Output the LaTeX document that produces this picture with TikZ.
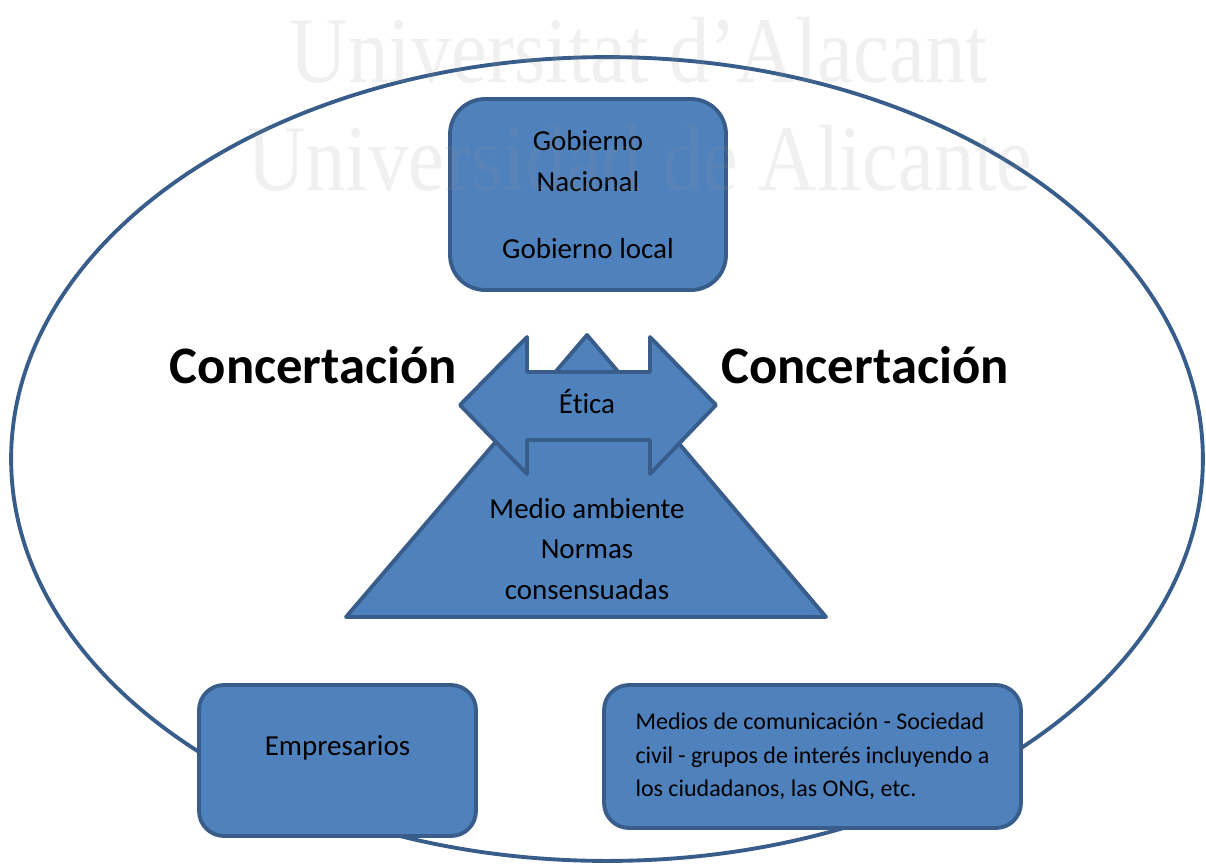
\documentclass[tikz,border=0pt]{standalone}
\usepackage{fontspec}
\setmainfont[Ligatures=NoCommon]{Carlito}
\newfontfamily\wmfont[FakeStretch=0.86]{Liberation Serif}
\usetikzlibrary{positioning}
\definecolor{boxblue}{HTML}{4F81BD}
\definecolor{boxline}{HTML}{385D8A}
\tikzset{%
   blk/.style={
      draw=boxline,
      fill=boxblue,
      line width=2.2pt,
      line join=round
   },
   rbox/.style={
      blk,
      rectangle,
      rounded corners=#1,
      align=center,
      font=\fontsize{16.5}{23.3}\selectfont
   },
   rbox/.default=0.5cm,
   lbl/.style={
      font=\fontsize{16.5}{23.3}\selectfont,
      align=center,
      inner sep=0pt
   },
   conc/.style={
      font=\fontsize{30}{36}\selectfont\bfseries,
      inner sep=0pt
   },
   wm/.style={
      font=\wmfont\fontsize{53.5}{60}\selectfont,
      text=black!41,
      text opacity=0.14,
      inner sep=0pt
   },
}

\begin{document}
\begin{tikzpicture}[x=0.02cm, y=-0.02cm]
   \useasboundingbox (0,0) rectangle (1206,863);
   \draw[boxline, line width=2.2pt] (607,459) ellipse [x radius=11.92cm, y radius=8.04cm];

   \node[rbox=0.7cm, minimum width=5.52cm, minimum height=3.82cm] (gob) at (588,194.5)
      {Gobierno\\Nacional\\[15pt]Gobierno local};
   \node[rbox, minimum width=5.54cm, minimum height=3.02cm, text depth=17pt] (emp) at (337.5,760.5)
      {Empresarios};
   \node[rbox, minimum width=8.34cm, minimum height=2.86cm, align=left,
      font=\fontsize{13.65}{19}\selectfont] (medios) at (812.5,756.5)
      {Medios de comunicación - Sociedad\\civil - grupos de interés incluyendo a\\los ciudadanos, las ONG, etc.};

   \coordinate (apex) at (587,335);
   \coordinate (bl) at (346,617);
   \coordinate (br) at (826,617);
   \draw[blk] (apex) -- (br) -- (bl) -- cycle;

   \coordinate (tipL) at (460,405);
   \coordinate (tipR) at (716,405);
   \draw[blk] (tipL) -- (527,337) -- (527,372) -- (650,372) -- (650,337) -- (tipR)
      -- (650,474) -- (650,440) -- (527,440) -- (527,474) -- cycle;

   \node[lbl, anchor=base] (etica) at (587,413) {Ética};
   \node[lbl] (medio) at (587,549) {Medio ambiente\\Normas\\consensuadas};

   \node[conc, anchor=base] (concL) at (313.5,383) {Concertación};
   \node[conc, anchor=base] (concR) at (865,383) {Concertación};

   \node[wm, anchor=base] (wmA) at (639,82) {Universitat d’Alacant};
   \node[wm, anchor=base] (wmB) at (640,190) {Universidad de Alicante};
\end{tikzpicture}
\end{document}
